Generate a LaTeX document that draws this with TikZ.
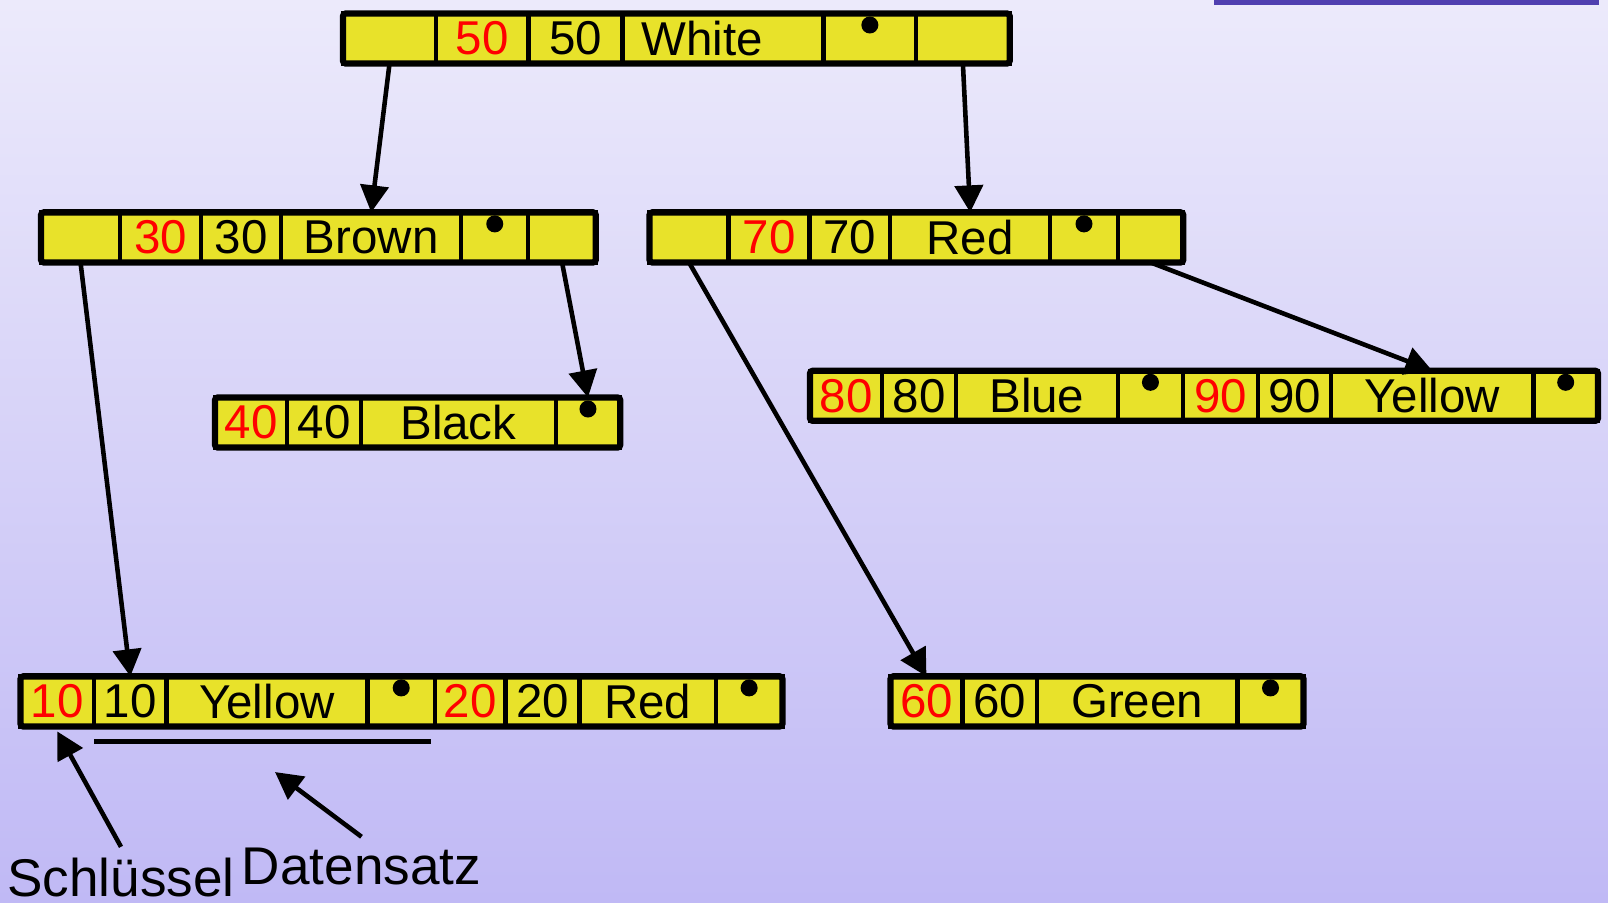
\documentclass[tikz,border=0pt]{standalone}
\usepackage{fontspec}
\setmainfont{Liberation Sans}
\usetikzlibrary{positioning, arrows.meta, calc}
\definecolor{cellyellow}{RGB}{232,226,42}
\definecolor{bgtop}{RGB}{236,234,251}
\definecolor{bgbot}{RGB}{192,185,245}
\definecolor{barpurple}{RGB}{80,64,176}

\begin{document}
\begin{tikzpicture}[x=0.01cm, y=-0.01cm,
    cell/.style={draw, fill=cellyellow, line width=1.2pt, minimum height=0.5cm, inner sep=0pt, outer sep=0pt, font=\fontsize{13.5}{16}\selectfont},
    key/.style={cell, text=red},
    frame/.style={draw, line width=1.8pt, rounded corners=0.8pt},
    ptr/.style={-{Triangle[length=0.27cm, width=0.28cm]}, line width=1.3pt},
    lbl/.style={font=\fontsize{15.1}{18}\selectfont, inner sep=0.04cm, anchor=base}]
        \shade[top color=bgtop, bottom color=bgbot] (0,0) rectangle (1608,902);
        \useasboundingbox (0,0) rectangle (1608,902);
        \fill[barpurple] (1214,0) rectangle (1599,5);

        \node[cell, anchor=west, minimum width=0.93cm] (l50) at (343,38.5) {};
        \node[key, right=0pt of l50, minimum width=0.923cm] (k50) {50};
        \node[cell, right=0pt of k50, minimum width=0.94cm] (v50) {50};
        \node[cell, right=0pt of v50, text width=1.63cm, inner xsep=0.19cm, align=left] (c50) {White};
        \node[cell, right=0pt of c50, minimum width=0.925cm] (e50) {};
        \node[cell, right=0pt of e50, minimum width=0.935cm] (r50) {};
        \draw[frame] (l50.north west) rectangle (r50.south east);

        \node[cell, anchor=west, minimum width=0.79cm] (l30) at (41,237.4) {};
        \node[key, right=0pt of l30, minimum width=0.81cm] (k30) {30};
        \node[cell, right=0pt of k30, minimum width=0.80cm] (v30) {30};
        \node[cell, right=0pt of v30, minimum width=1.80cm] (c30) {Brown};
        \node[cell, right=0pt of c30, minimum width=0.67cm] (e30) {};
        \node[cell, right=0pt of e30, minimum width=0.675cm] (r30) {};
        \draw[frame] (l30.north west) rectangle (r30.south east);

        \node[cell, anchor=west, minimum width=0.79cm] (l70) at (649.5,237.4) {};
        \node[key, right=0pt of l70, minimum width=0.81cm] (k70) {70};
        \node[cell, right=0pt of k70, minimum width=0.805cm] (v70) {70};
        \node[cell, right=0pt of v70, minimum width=1.60cm] (c70) {Red};
        \node[cell, right=0pt of c70, minimum width=0.675cm] (e70) {};
        \node[cell, right=0pt of e70, minimum width=0.655cm] (r70) {};
        \draw[frame] (l70.north west) rectangle (r70.south east);

        \node[key, anchor=west, minimum width=0.72cm] (k40) at (215,422.5) {40};
        \node[cell, right=0pt of k40, minimum width=0.74cm] (v40) {40};
        \node[cell, right=0pt of v40, minimum width=1.945cm] (c40) {Black};
        \node[cell, right=0pt of c40, minimum width=0.645cm] (e40) {};
        \draw[frame] (k40.north west) rectangle (e40.south east);

        \node[key, anchor=west, minimum width=0.72cm] (k80) at (810,395.8) {80};
        \node[cell, right=0pt of k80, minimum width=0.74cm] (v80) {80};
        \node[cell, right=0pt of v80, minimum width=1.615cm] (c80) {Blue};
        \node[cell, right=0pt of c80, minimum width=0.655cm] (e80) {};
        \node[key, right=0pt of e80, minimum width=0.745cm] (k90) {90};
        \node[cell, right=0pt of k90, minimum width=0.735cm] (v90) {90};
        \node[cell, right=0pt of v90, minimum width=2.02cm] (c90) {Yellow};
        \node[cell, right=0pt of c90, minimum width=0.645cm] (e90) {};
        \draw[frame] (k80.north west) rectangle (e90.south east);

        \node[key, anchor=west, minimum width=0.735cm] (k10) at (20.5,701.4) {10};
        \node[cell, right=0pt of k10, minimum width=0.725cm] (v10) {10};
        \node[cell, right=0pt of v10, minimum width=2.007cm] (c10) {Yellow};
        \node[cell, right=0pt of c10, minimum width=0.676cm] (e10) {};
        \node[key, right=0pt of e10, minimum width=0.705cm] (k20) {20};
        \node[cell, right=0pt of k20, minimum width=0.739cm] (v20) {20};
        \node[cell, right=0pt of v20, minimum width=1.362cm] (c20) {Red};
        \node[cell, right=0pt of c20, minimum width=0.666cm] (e20) {};
        \draw[frame] (k10.north west) rectangle (e20.south east);

        \node[key, anchor=west, minimum width=0.719cm] (k60) at (890.5,701.4) {60};
        \node[cell, right=0pt of k60, minimum width=0.744cm] (v60) {60};
        \node[cell, right=0pt of v60, minimum width=2.005cm] (c60) {Green};
        \node[cell, right=0pt of c60, minimum width=0.66cm] (e60) {};
        \draw[frame] (k60.north west) rectangle (e60.south east);

        \foreach \n in {e50, e30, e70, e40, e80, e90, e10, e20, e60}
            \fill ([yshift=0.135cm]\n.center) circle (0.085cm);

        \draw[ptr] (l50.south) -- (c30.north);
        \draw[ptr] (r50.south) -- (c70.north);
        \draw[ptr] (l30.south) -- (v10.north);
        \draw[ptr] (r30.south) -- (e40.north);
        \draw[ptr] (l70.south) -- (k60.north);
        \draw[ptr] (r70.south) -- (c90.north);

        \draw[line width=1.4pt] ([yshift=-0.15cm]v10.south west) -- ([yshift=-0.15cm, xshift=-0.04cm]e10.south east);
        \node[lbl] (schl) at (121,896) {Schlüssel};
        \node[lbl] (dsatz) at (361.5,884) {Datensatz};
        \coordinate (dtip) at (275,772);
        \draw[ptr] ([yshift=0.06cm]schl.north) -- ([yshift=-0.05cm]k10.south);
        \draw[ptr] ([yshift=0.06cm]dsatz.north) -- (dtip);
    \end{tikzpicture}
\end{document}
